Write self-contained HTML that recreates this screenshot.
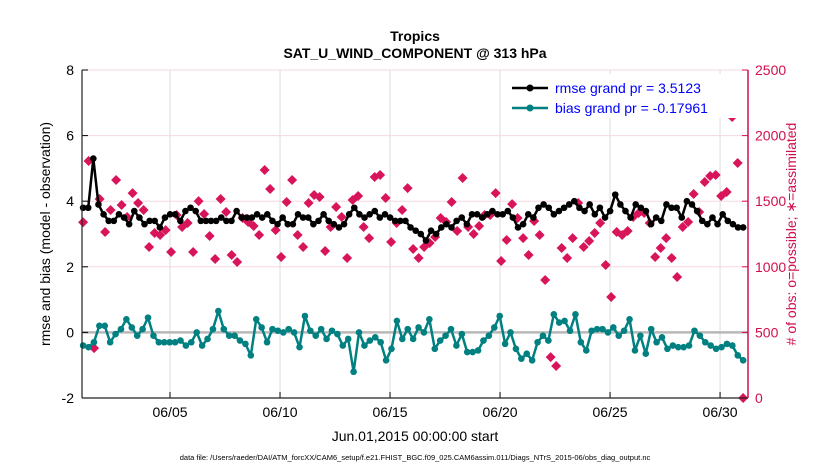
<!DOCTYPE html>
<html><head><meta charset="utf-8"><style>
body{margin:0;background:#fff;}
svg{display:block;font-family:"Liberation Sans",sans-serif;}
</style></head><body>
<svg id="chart" width="830" height="470" viewBox="0 0 830 470">
<rect width="830" height="470" fill="#fff"/>
<text x="415" y="41" text-anchor="middle" font-size="14" font-weight="bold">Tropics</text>
<text x="415" y="58" text-anchor="middle" font-size="14" font-weight="bold">SAT_U_WIND_COMPONENT @ 313 hPa</text>
<g id="grid"></g>
<g id="series"></g>
<g id="axes"></g>
<text transform="translate(50,234) rotate(-90)" text-anchor="middle" font-size="14">rmse and bias (model - observation)</text>
<text transform="translate(796,234) rotate(-90)" text-anchor="middle" font-size="14" fill="#d0104c"># of obs: o=possible; ∗=assimilated</text>
<text x="415" y="441" text-anchor="middle" font-size="14">Jun.01,2015 00:00:00 start</text>
<text x="415" y="460" text-anchor="middle" font-size="7.5">data file: /Users/raeder/DAI/ATM_forcXX/CAM6_setup/f.e21.FHIST_BGC.f09_025.CAM6assim.011/Diags_NTrS_2015-06/obs_diag_output.nc</text>
<g>
<rect x="508" y="74" width="238" height="44" fill="#fff"/>
<line x1="512" y1="88" x2="548" y2="88" stroke="#000" stroke-width="2.5"/>
<circle cx="530" cy="88" r="3.5" fill="#000"/>
<text x="555" y="93" font-size="14" fill="#0000ff">rmse grand pr = 3.5123</text>
<line x1="512" y1="108" x2="548" y2="108" stroke="#008080" stroke-width="2.5"/>
<circle cx="530" cy="108" r="3.5" fill="#008080"/>
<text x="555" y="113" font-size="14" fill="#0000ff">bias grand pr = -0.17961</text>
</g>
</svg>
<script>
const rmse=[3.8,3.8,5.3,3.9,3.6,3.4,3.4,3.6,3.5,3.3,3.7,3.5,3.3,3.4,3.4,3.2,3.5,3.6,3.6,3.4,3.7,3.8,3.7,3.4,
3.4,3.4,3.4,3.5,3.4,3.4,3.7,3.5,3.5,3.5,3.6,3.5,3.6,3.4,3.3,3.5,3.3,3.3,3.6,3.5,3.5,3.3,3.4,
3.6,3.4,3.3,3.2,3.3,3.6,3.8,3.6,3.5,3.6,3.7,3.5,3.6,3.5,3.4,3.4,3.4,3.2,3.1,3.0,2.8,3.1,3.0,3.2,3.3,
3.2,3.4,3.5,3.3,3.6,3.6,3.5,3.6,3.7,3.6,3.6,3.7,3.5,3.2,3.3,3.6,3.5,
3.8,3.9,3.8,3.6,3.7,3.8,3.9,4.0,3.8,3.7,3.9,3.6,3.8,3.5,3.7,4.2,3.9,3.7,3.5,3.9,3.8,
3.7,3.3,3.5,3.4,3.9,3.8,3.8,3.5,4.0,3.9,3.7,3.4,3.3,3.5,3.3,3.6,3.4,3.3,3.2,3.2];
const bias=[-0.4,-0.45,-0.3,0.2,0.2,-0.3,-0.05,0.1,0.4,0.15,-0.1,0.1,0.45,-0.1,-0.3,-0.3,-0.3,-0.3,-0.25,-0.4,-0.3,0.0,-0.4,-0.2,0.1,0.65,0.1,-0.1,-0.1,-0.25,-0.35,-0.7,0.4,0.15,-0.3,0.1,0.05,0.0,0.1,0.0,-0.45,0.5,
0.05,-0.1,0.1,-0.2,0.05,-0.05,-0.4,-0.2,-1.2,0.0,-0.4,-0.25,-0.15,-0.3,-0.85,-0.5,0.35,-0.2,0.1,-0.2,0.15,0.0,0.4,-0.5,-0.25,-0.1,0.1,-0.4,-0.05,-0.6,-0.6,-0.55,-0.25,-0.1,0.15,0.5,-0.35,0.0,-0.5,-0.8,
-0.65,-0.85,-0.3,-0.1,-0.25,0.55,0.3,0.35,0.05,0.55,-0.3,-0.55,0.05,0.1,0.1,0.0,0.15,-0.1,0.05,0.4,-0.55,-0.1,-0.65,0.1,-0.3,-0.15,-0.5,-0.4,-0.45,-0.45,-0.4,0.05,-0.1,-0.3,-0.4,-0.5,-0.45,-0.35,-0.4,-0.7,-0.85];
const obs=[1340,1806,380,1517,1265,1433,1662,1471,1380,1562,1486,1433,1151,1258,1242,1280,1113,1395,1303,1334,1113,1501,1402,1235,1059,1517,1418,1090,1037,1372,1341,1311,1242,1738,1593,1280,1075,1494,1662,1242,1151,1486,
1547,1532,1120,1303,1456,1380,1067,1509,1540,1303,1219,1684,1700,1524,1189,1334,1433,1600,1136,1067,1151,1181,1227,1372,1341,1494,1273,1677,1303,1250,1311,1395,1395,1562,1044,1204,1478,1372,1219,
1090,1349,1242,899,312,244,1143,1067,1219,1486,1151,1197,1258,1334,1014,770,1265,1242,1273,1380,1410,1410,1334,1075,1143,1219,1067,922,1303,1341,1555,1418,1646,1692,1700,1540,1570,2142,1791,0];
const xTickLabels=["06/05","06/10","06/15","06/20","06/25","06/30"];
const xTickDays=[5,10,15,20,25,30];
const yTicks=[-2,0,2,4,6,8];
const y2Ticks=[0,500,1000,1500,2000,2500];

const L=82,R=748,T=70,B=398,D0=1,D1=31.27;
const NS='http://www.w3.org/2000/svg';
const xS=d=>L+(d-D0)/(D1-D0)*(R-L);
const yS=v=>B-(v+2)/10*(B-T);
const y2S=v=>B-v/2500*(B-T);
const dayOf=(i,n)=>1.05+i*(30/(n-1));
function mk(tag,attrs,parent){const e=document.createElementNS(NS,tag);for(const k in attrs)e.setAttribute(k,attrs[k]);parent.appendChild(e);return e;}
const grid=document.getElementById('grid'),ser=document.getElementById('series'),ax=document.getElementById('axes');
xTickDays.forEach((d,i)=>{
  const l=mk('line',{x1:xS(d),x2:xS(d),y1:T,y2:B,stroke:'#dcdcdc','stroke-width':1},grid);
  
  
  const t=mk('line',{x1:xS(d),x2:xS(d),y1:B,y2:B-6,stroke:'#000'},ax);
  
  
  const tx=mk('text',{x:xS(d),y:B+19,'text-anchor':'middle','font-size':14},ax);
  tx.textContent=xTickLabels[i];
  
  
});
y2Ticks.forEach(v=>{
  const l=mk('line',{x1:L,x2:R,y1:y2S(v),y2:y2S(v),stroke:'#f3d8e0','stroke-width':1},grid);
  
  
  const t=mk('line',{x1:R,x2:R-6,y1:y2S(v),y2:y2S(v),stroke:'#d0104c'},ax);
  
  
  const tx=mk('text',{x:R+7,y:y2S(v)+5,'font-size':14,fill:'#d0104c'},ax);
  tx.textContent=v;
  
  
});
yTicks.forEach(v=>{
  const t=mk('line',{x1:L,x2:L+6,y1:yS(v),y2:yS(v),stroke:'#000'},ax);
  
  
  const tx=mk('text',{x:L-8,y:yS(v)+5,'text-anchor':'end','font-size':14},ax);
  tx.textContent=v;
  
  
});
const zl=mk('line',{x1:L,x2:R,y1:yS(0),y2:yS(0),stroke:'#b8b8b8','stroke-width':2.5},grid);


// obs markers
obs.forEach((v,i)=>{
  const x=xS(dayOf(i,obs.length)),y=y2S(v);
  const p=mk('path',{d:`M${x},${y-5}L${x+5},${y}L${x},${y+5}L${x-5},${y}Z`,fill:'#d8145a'},ser);
  
  
});
function line(arr,color,name){
  const pts=arr.map((v,i)=>[xS(dayOf(i,arr.length)),yS(v)]);
  const pl=mk('polyline',{points:pts.map(p=>p.join(',')).join(' '),fill:'none',stroke:color,'stroke-width':2.5,'stroke-linejoin':'round'},ser);
  
  
  pts.forEach(p=>{
    const c=mk('circle',{cx:p[0],cy:p[1],r:3.3,fill:color},ser);
    
    
  });
}
line(rmse,'#000','rmse');
line(bias,'#008080','bias');
const fr1=mk('line',{x1:L,x2:L,y1:T,y2:B,stroke:'#222','stroke-width':1.2},ax);


const fr2=mk('line',{x1:R,x2:R,y1:T,y2:B,stroke:'#d0104c','stroke-width':1.5},ax);


const fr3=mk('line',{x1:L,x2:R,y1:B,y2:B,stroke:'#222','stroke-width':1.2},ax);


</script>
</body></html>
